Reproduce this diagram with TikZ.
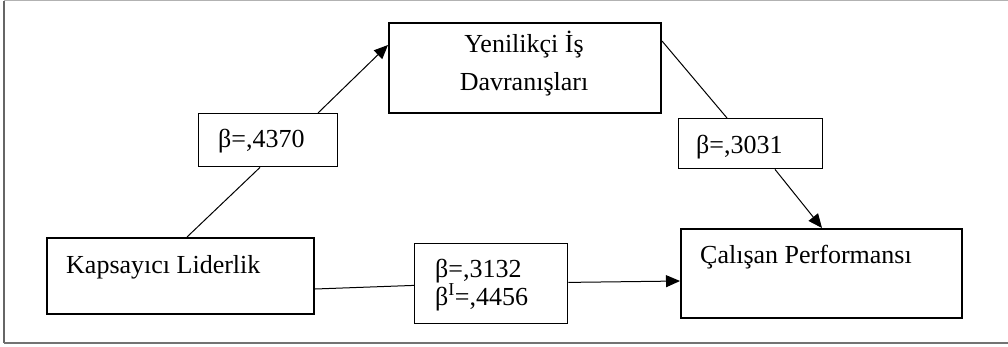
\documentclass[tikz,border=0pt]{standalone}
\usepackage{fontspec}
\setmainfont{Liberation Serif}
\usetikzlibrary{arrows.meta}
\begin{document}
\begin{tikzpicture}[x=1pt,y=-1pt,
  mainbox/.style={draw,line width=2pt,anchor=north west,inner sep=0pt},
  betabox/.style={draw,line width=1.4pt,anchor=north west,inner sep=0pt},
  txt/.style={anchor=base west,inner sep=0pt,font=\fontsize{26}{30}\selectfont},
  conn/.style={line width=1pt},
  arr/.style={line width=1pt,-{Triangle[length=14pt,width=12pt]}}]
\useasboundingbox (0,0) rectangle (1008,346);
% outer frame
\draw[line width=2pt,color=black!60] (4,0.5) -- (4,343);
\draw[line width=1.2pt,color=black!30] (4,0.8) -- (1010,0.8);
\draw[line width=1.6pt,color=black!55] (4,343) -- (1010,343);
% boxes
\node[mainbox,minimum width=272pt,minimum height=90pt] (yi) at (388,22) {};
\node[mainbox,minimum width=267pt,minimum height=76pt] (kl) at (46,237) {};
\node[mainbox,minimum width=281pt,minimum height=89pt] (cp) at (680,228) {};
\node[betabox,minimum width=139pt,minimum height=53pt] (b1) at (198,113) {};
\node[betabox,minimum width=144pt,minimum height=50pt] (b2) at (678,118) {};
\node[betabox,minimum width=153pt,minimum height=80pt] (b3) at (414,243) {};
% texts
\node[txt,anchor=base] (t1) at (524,52) {Yenilikçi İş};
\node[txt,anchor=base] (t2) at (524,90) {Davranışları};
\node[txt] (t3) at (66,273) {Kapsayıcı Liderlik};
\node[txt] (t4) at (700,263) {Çalışan Performansı};
\node[txt] (t5) at (218,147) {β=,4370};
\node[txt] (t6) at (696,153) {β=,3031};
\node[txt] (t7) at (435,277) {β=,3132};
\node[txt] (t8) at (435,305) {β\textsuperscript{I}=,4456};
% connectors
\draw[conn] ([xshift=141pt]kl.north west) -- ([xshift=62pt]b1.south west);
\draw[arr] ([xshift=120pt]b1.north west) -- ([yshift=-23pt]yi.north west);
\draw[conn] ([yshift=-19pt]yi.north east) -- ([xshift=49pt]b2.north west);
\draw[arr] ([xshift=97pt]b2.south west) -- ([xshift=142pt]cp.north west);
\draw[conn] ([yshift=26pt]kl.south east) -- ([yshift=39pt]b3.south west);
\draw[arr] ([yshift=42pt]b3.south east) -- ([yshift=38pt]cp.south west);
\end{tikzpicture}
\end{document}
